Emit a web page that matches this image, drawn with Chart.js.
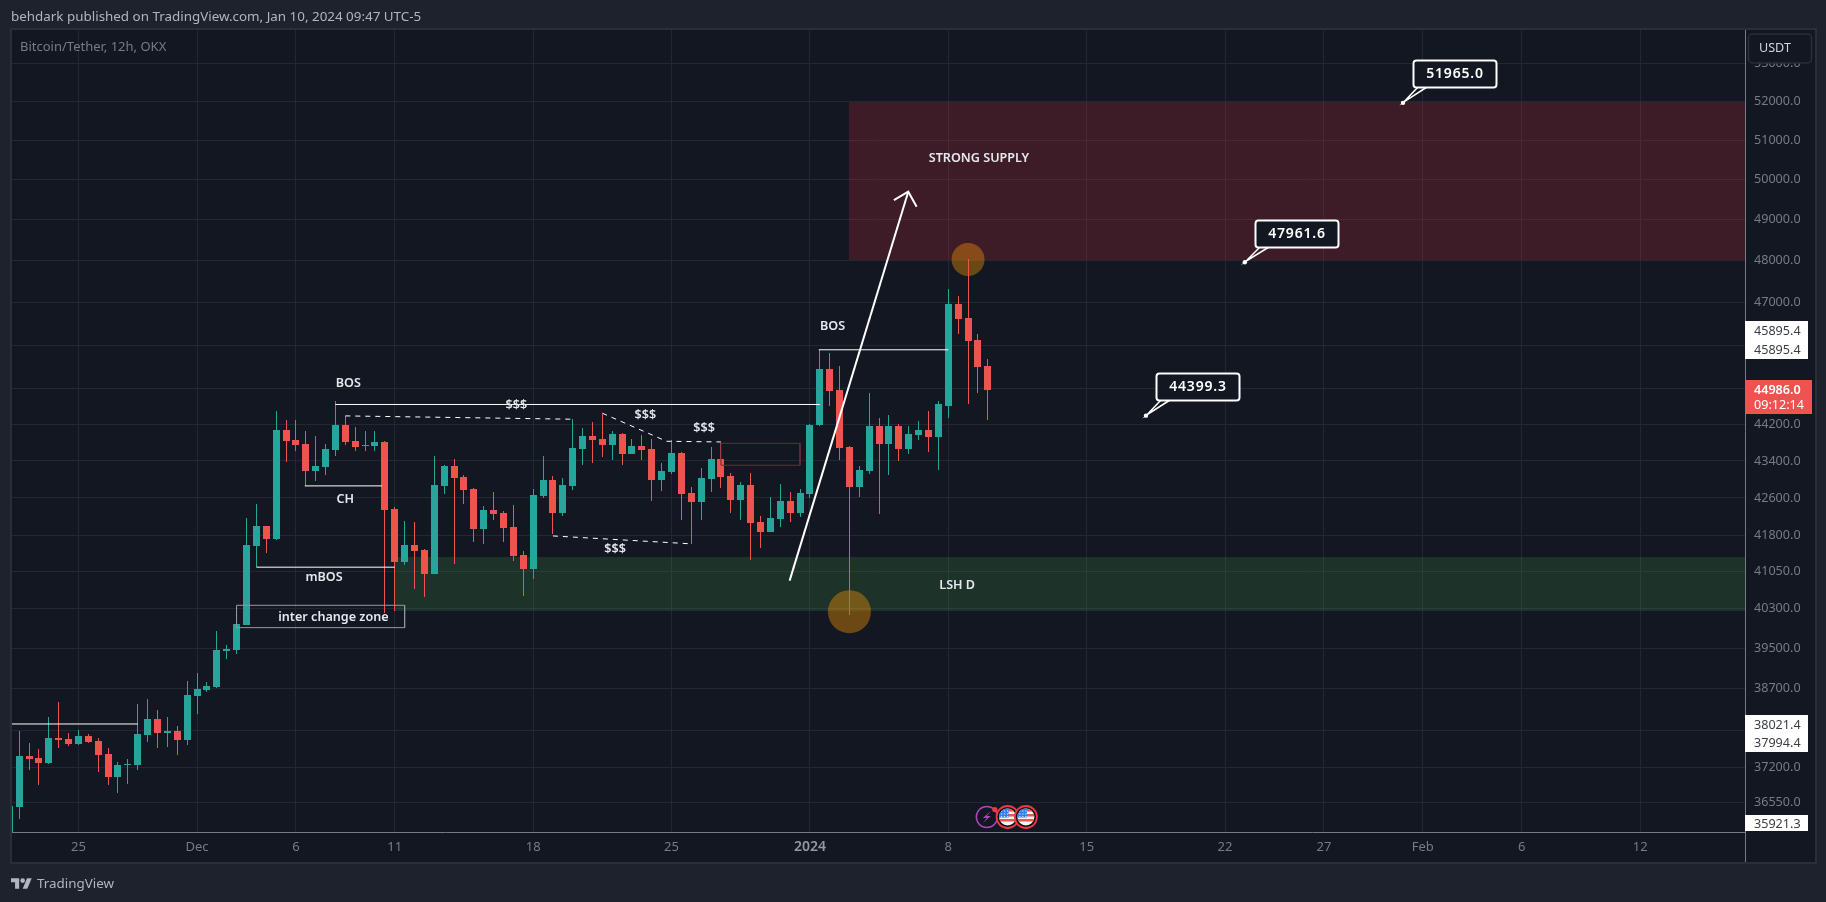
<!DOCTYPE html>
<html>
<head>
<meta charset="utf-8">
<title>Bitcoin/Tether, 12h, OKX</title>
<script src="https://cdn.jsdelivr.net/npm/chart.js@4/dist/chart.umd.min.js"></script>
<style>
  html, body { margin: 0; padding: 0; background: #1e222d; overflow: hidden; }
  body { width: 1826px; height: 902px; position: relative; font-family: "Noto Sans", sans-serif; }
  canvas { position: absolute; left: 0; top: 0; }
  .header { position: absolute; left: 11px; top: 6px; font-size: 13.4px; line-height: 20px; color: #b2b5be; white-space: nowrap; }
  .title { position: absolute; left: 20px; top: 37px; font-size: 13px; line-height: 18px; color: #787b86; white-space: nowrap; }
  .brand { position: absolute; left: 11px; top: 873px; height: 20px; display: flex; align-items: center; color: #b2b5be; font-size: 13.4px; }
  .brand svg { margin-right: 5px; }
</style>
</head>
<body>
<canvas id="chart" width="1826" height="902"></canvas>
<div class="header">behdark published on TradingView.com, Jan 10, 2024 09:47 UTC-5</div>
<div class="title">Bitcoin/Tether, 12h, OKX</div>
<div class="brand">
  <svg width="21" height="11" viewBox="0 4 36 18"><path fill="#b2b5be" d="M14 22H7V11H0V4h14v18zM28 22h-8l7.5-18h8L28 22z"/><circle fill="#b2b5be" cx="20" cy="8" r="4"/></svg>
  TradingView
</div>
<script>
// 12h candles, index 0 = Nov 21 12:00
const opens = [
  35921, 36471, 37413, 37376, 37283, 37754, 37735, 37640, 37793, 37697,
  37450, 37022, 37245, 37245, 37812, 38118, 37850, 37888, 37716, 38559,
  38677, 38736, 39441, 39461, 39964, 41582, 42004, 41729, 44083, 43860,
  43771, 43183, 43269, 43638, 44194, 43838, 43727, 43727, 43816, 42364,
  41250, 41603, 41497, 41002, 42858, 43291, 43053, 42793, 41941, 42343,
  42279, 41983, 41394, 41105, 42641, 42988, 42279, 42858, 43660, 43949,
  43883, 43749, 43994, 43551, 43727, 43660, 42988, 43161, 43573, 42706,
  42512, 43009, 43443, 43074, 42554, 42879, 42089, 41877, 42152, 42533,
  42279, 42684, 44194, 45457, 44978, 43705, 42836, 43183, 44172, 43771,
  44172, 43660, 43972, 44083, 43927, 44617, 46965, 46638, 46124, 45525
];
const closes = [
  36484, 37413, 37357, 37283, 37754, 37716, 37640, 37793, 37678, 37432,
  37022, 37245, 37264, 37831, 38118, 37850, 37888, 37716, 38579, 38697,
  38755, 39461, 39481, 39984, 41603, 42004, 41729, 44083, 43838, 43749,
  43183, 43291, 43660, 44194, 43816, 43705, 43749, 43816, 42343, 41250,
  41603, 41476, 41002, 42879, 43291, 43031, 42771, 41941, 42343, 42258,
  41962, 41373, 41105, 42662, 42988, 42279, 42879, 43682, 43949, 43860,
  43749, 43994, 43551, 43727, 43638, 42988, 43183, 43573, 42684, 42512,
  43031, 43443, 43053, 42554, 42879, 42068, 41877, 42173, 42533, 42279,
  42706, 44194, 45457, 44955, 43682, 42836, 43205, 44172, 43771, 44172,
  43660, 43994, 44083, 43927, 44661, 46965, 46614, 46100, 45502, 44986
];
const highs = [
  36484, 37888, 37659, 37544, 38156, 38443, 37850, 37907, 37831, 37754,
  37563, 37301, 37357, 38405, 38501, 38290, 38156, 37984, 38853, 39010,
  38834, 39843, 39562, 40345, 42173, 42469, 42004, 44505, 44305, 44305,
  44061, 43949, 43771, 44734, 44394, 44150, 44061, 44061, 43838, 42406,
  42110, 42089, 41518, 43508, 43313, 43443, 43096, 42814, 42427, 42731,
  42321, 42448, 41476, 42793, 43508, 43074, 43031, 44327, 44127, 44261,
  44439, 44061, 44016, 43883, 43972, 43883, 43356, 43860, 43595, 42836,
  43248, 43705, 43794, 43140, 42944, 43140, 42216, 42619, 42901, 42731,
  42793, 44216, 45890, 45822, 45525, 43727, 43291, 44910, 44350, 44416,
  44216, 44172, 44283, 44505, 44728, 47322, 47154, 48041, 46264, 45685
];
const lows = [
  35921, 36253, 37152, 36873, 37264, 37563, 37601, 37621, 37659, 37115,
  36873, 36724, 36891, 37152, 37678, 37563, 37582, 37432, 37621, 38213,
  38638, 38716, 39285, 39383, 39964, 41146, 41435, 41708, 43378, 43616,
  42858, 42966, 43096, 43508, 43749, 43616, 43616, 43616, 40205, 40245,
  41188, 40693, 40528, 41002, 42684, 41208, 42469, 41666, 41624, 42131,
  41666, 41270, 40549, 40899, 42597, 41836, 42216, 42771, 43313, 43356,
  43486, 43421, 43313, 43551, 43421, 42533, 42749, 43118, 42131, 41624,
  42131, 42731, 42814, 42279, 42131, 41291, 41539, 41877, 41983, 42089,
  42195, 42597, 44172, 44617, 43421, 40165, 42619, 43118, 42258, 43096,
  43400, 43551, 43860, 43595, 43205, 44350, 46264, 44661, 44910, 44305
];

const priceTicks = [53000, 52000, 51000, 50000, 49000, 48000, 47000, 46000, 45000, 44200, 43400, 42600, 41800, 41050, 40300, 39500, 38700, 37900, 37200, 36550];
const timeTicks = [7, 19, 29, 39, 53, 67, 81, 95, 109, 123, 133, 143, 153, 165];
const timeLabels = ['25', 'Dec', '6', '11', '18', '25', '2024', '8', '15', '22', '27', 'Feb', '6', '12'];

// drawings, as [candle index, price]
const leftLevel = [[0, 38021], [13, 38021]];
const mbosLine = [[25, 41141], [39, 41141]];
const chLine = [[29.9, 42858], [37.7, 42858]];
const bosLine = [[33, 44650], [82, 44650]];
const bos2Line = [[81.9, 45895.4], [95, 45895.4]];
const swingHighs = [[34, 44394], [57, 44320]];
const swingHighs2 = [[60, 44454], [66.5, 43831], [72, 43816]];
const swingLows = [[55, 41793], [69, 41627]];
const interChangeBox = [[23, 40360], [40, 40360], [40, 39909], [23, 39909], [23, 40360]];
const orderBlockBox = [[72, 43787], [80, 43787], [80, 43306], [72, 43306], [72, 43787]];
const arrowShaft = [[78.95, 40864], [90.95, 49693]];
const arrowHead = [[89.5, 49486], [90.95, 49693], [91.8, 49320]];

const sweepIndex = [85, 97];
const sweepPrice = [40230, 48030];
const sweepSize = [21.5, 16.5];

const supplyZone = { from: 85, top: 52000, bottom: 48017 };
const demandZone = { from: 39, top: 41353, bottom: 40251 };

const noteText = ['BOS', '$$$', '$$$', '$$$', '$$$', 'CH', 'mBOS', 'inter change zone', 'BOS', 'STRONG SUPPLY', 'LSH D'];
const noteIndex = [34.3, 51.3, 64.35, 70.3, 61.3, 34, 31.85, 32.8, 83.3, 98.1, 95.9];
const notePrice = [45115, 44639, 44394, 44105, 41518, 42576, 40920, 40124, 46427, 50535, 40773];

const calloutIndex = [141, 125, 115];
const calloutPrice = [51965.0, 47961.6, 44399.3];

const eventIndex = [98.9, 101, 102.85];

const UP = '#26a69a';
const DOWN = '#ef5350';
const PANE = '#131722';
const BODY_BG = '#1e222d';
const TEXT_FONT = '"Noto Sans", sans-serif';

const candleIdx = opens.map((_, i) => i);
const candleColors = opens.map((o, i) => closes[i] >= o ? UP : DOWN);

function drawingLine(points, opts = {}) {
  return {
    type: 'line',
    data: points.map(p => ({ x: p[0], y: p[1] })),
    borderColor: opts.color || '#ffffff',
    borderWidth: opts.width || 1,
    borderDash: opts.dash || [],
    pointRadius: 0,
    tension: 0,
    order: 1
  };
}

function roundRect(ctx, x, y, w, h, r) {
  ctx.beginPath();
  ctx.roundRect(x, y, w, h, r);
}

// pixel-snap the candles the way TradingView draws them
const snapCandles = {
  id: 'snapCandles',
  afterDatasetsUpdate(chart) {
    chart.data.datasets.forEach((ds, i) => {
      if (ds.type === 'line') return;
      chart.getDatasetMeta(i).data.forEach(el => {
        el.x = Math.round(el.x - 0.5) + 0.5;
        let top = Math.round(el.y);
        let bottom = Math.round(el.base);
        if (bottom - top < 1) bottom = top + 1;
        el.y = top;
        el.base = bottom;
      });
    });
  }
};

const paneBackground = {
  id: 'paneBackground',
  beforeDraw(chart) {
    const { ctx } = chart;
    ctx.save();
    ctx.fillStyle = BODY_BG;
    ctx.fillRect(0, 0, 1826, 902);
    ctx.fillStyle = '#2a2e39';
    ctx.fillRect(10, 28, 1807, 836);
    ctx.fillStyle = PANE;
    ctx.fillRect(12, 30, 1803, 832);
    ctx.restore();
  }
};

const zones = {
  id: 'zones',
  beforeDatasetsDraw(chart) {
    const { ctx, scales: { x, y }, chartArea } = chart;
    ctx.save();
    [[supplyZone, 'rgba(242,54,69,0.19)'], [demandZone, 'rgba(76,175,80,0.18)']].forEach(([z, color]) => {
      const left = Math.round(x.getPixelForValue(z.from));
      const top = Math.round(y.getPixelForValue(z.top));
      const bottom = Math.round(y.getPixelForValue(z.bottom));
      ctx.fillStyle = color;
      ctx.fillRect(left, top, chartArea.right - left, bottom - top);
    });
    ctx.restore();
  }
};

const notes = {
  id: 'notes',
  afterDatasetsDraw(chart) {
    const { ctx, scales: { x, y } } = chart;
    ctx.save();
    ctx.textAlign = 'center';
    ctx.textBaseline = 'middle';
    noteText.forEach((t, i) => {
      ctx.font = '600 12.6px ' + TEXT_FONT;
      ctx.fillStyle = '#e6e8ee';
      ctx.fillText(t, x.getPixelForValue(noteIndex[i]), y.getPixelForValue(notePrice[i]));
    });

    // price callouts
    calloutPrice.forEach((p, i) => {
      const tipX = x.getPixelForValue(calloutIndex[i]);
      const tipY = y.getPixelForValue(p);
      const bx = Math.round(tipX + 10);
      const by = Math.round(tipY - 42.5);
      ctx.strokeStyle = '#ffffff';
      ctx.fillStyle = PANE;
      ctx.lineWidth = 1.5;
      ctx.beginPath();
      ctx.moveTo(bx + 5, by + 27);
      ctx.lineTo(tipX + 1, tipY - 1);
      ctx.lineTo(bx + 14, by + 27);
      ctx.stroke();
      roundRect(ctx, bx + 0.5, by + 0.5, 83, 27, 3);
      ctx.fill();
      ctx.lineWidth = 2;
      ctx.stroke();
      ctx.fillStyle = '#ffffff';
      ctx.beginPath();
      ctx.arc(tipX, tipY, 2.2, 0, Math.PI * 2);
      ctx.fill();
      ctx.font = '600 14px ' + TEXT_FONT;
      ctx.letterSpacing = '0.8px';
      ctx.fillText(p.toFixed(1), bx + 42, by + 14);
      ctx.letterSpacing = '0px';
    });

    // event markers on the time axis
    const eventY = chart.chartArea.bottom - 15;
    const bolt = x.getPixelForValue(eventIndex[0]);
    ctx.strokeStyle = '#ab47bc';
    ctx.lineWidth = 1.5;
    ctx.beginPath();
    ctx.arc(bolt, eventY, 10.5, 0, Math.PI * 2);
    ctx.stroke();
    ctx.fillStyle = '#ab47bc';
    ctx.beginPath();
    ctx.moveTo(bolt + 4, eventY - 6);
    ctx.lineTo(bolt - 4, eventY + 1);
    ctx.lineTo(bolt, eventY + 1);
    ctx.lineTo(bolt - 4, eventY + 6);
    ctx.lineTo(bolt + 4, eventY - 1);
    ctx.lineTo(bolt, eventY - 1);
    ctx.closePath();
    ctx.fill();
    ctx.fillStyle = '#f23645';
    ctx.beginPath();
    ctx.arc(bolt + 8, eventY - 7.5, 2.6, 0, Math.PI * 2);
    ctx.fill();

    eventIndex.slice(1).forEach(k => {
      const cx = x.getPixelForValue(k);
      ctx.save();
      ctx.fillStyle = '#0d0f14';
      ctx.beginPath();
      ctx.arc(cx, eventY, 11, 0, Math.PI * 2);
      ctx.fill();
      ctx.beginPath();
      ctx.arc(cx, eventY, 8.5, 0, Math.PI * 2);
      ctx.clip();
      ctx.fillStyle = '#f4f4f4';
      ctx.fillRect(cx - 9, eventY - 9, 18, 18);
      ctx.fillStyle = '#ef5350';
      [-8, -3, 2].forEach(o => ctx.fillRect(cx - 9, eventY + o, 18, 2.5));
      ctx.fillStyle = '#2f80ed';
      ctx.fillRect(cx - 9, eventY - 9, 10, 9.5);
      ctx.fillStyle = '#ffffff';
      [-6.5, -3.5, -0.5].forEach(dx => [-6.5, -3.5, -1].forEach(dy => ctx.fillRect(cx + dx, eventY + dy, 1, 1)));
      ctx.restore();
      ctx.strokeStyle = '#f23645';
      ctx.lineWidth = 1.8;
      ctx.beginPath();
      ctx.arc(cx, eventY, 11, 0, Math.PI * 2);
      ctx.stroke();
    });
    ctx.restore();
  },
  afterDraw(chart) {
    const { ctx, chartArea } = chart;
    const axisX = chartArea.right;
    ctx.save();
    // axis divider runs on through the time scale
    ctx.fillStyle = '#787b86';
    ctx.fillRect(axisX, chartArea.bottom, 1, 30);

    // USDT button
    ctx.fillStyle = PANE;
    ctx.strokeStyle = '#2a2e39';
    ctx.lineWidth = 1.5;
    roundRect(ctx, axisX + 3.5, 34, 63, 29, 4);
    ctx.fill();
    ctx.stroke();
    ctx.fillStyle = '#d1d4dc';
    ctx.font = '12.6px ' + TEXT_FONT;
    ctx.textAlign = 'left';
    ctx.textBaseline = 'middle';
    ctx.fillText('USDT', axisX + 14, 48.5);

    // drawing price labels
    const textX = axisX + 9;
    ctx.fillStyle = '#ffffff';
    ctx.fillRect(axisX, 321, 63, 38);
    ctx.fillRect(axisX, 715, 63, 37);
    ctx.fillRect(axisX, 815, 63, 16);
    ctx.fillStyle = '#3a3d46';
    ctx.fillText('45895.4', textX, 331.5);
    ctx.fillText('45895.4', textX, 350);
    ctx.fillText('38021.4', textX, 725);
    ctx.fillText('37994.4', textX, 743.5);
    ctx.fillText('35921.3', textX, 824.5);

    // last price
    ctx.fillStyle = DOWN;
    ctx.fillRect(axisX, 380, 67, 34);
    ctx.fillStyle = '#ffffff';
    ctx.font = '600 12.6px ' + TEXT_FONT;
    ctx.fillText(closes[closes.length - 1].toFixed(1), textX, 390);
    ctx.font = '12.6px ' + TEXT_FONT;
    ctx.fillText('09:12:14', textX, 405);
    ctx.restore();
  }
};

new Chart(document.getElementById('chart'), {
  type: 'bar',
  data: {
    datasets: [
      // overlays sit above the candles: lower order draws on top
      ...[
        drawingLine(leftLevel),
        drawingLine(mbosLine),
        drawingLine(chLine),
        drawingLine(bosLine),
        drawingLine(bos2Line),
        drawingLine(swingHighs, { dash: [5, 5] }),
        drawingLine(swingHighs2, { dash: [5, 5] }),
        drawingLine(swingLows, { dash: [5, 5] }),
        drawingLine(interChangeBox, { color: '#9598a1' }),
        drawingLine(orderBlockBox, { color: '#6e2a38' }),
        drawingLine(arrowShaft, { width: 2 }),
        drawingLine(arrowHead, { width: 2 })
      ],
      {
        type: 'line',
        data: sweepIndex.map((k, i) => ({ x: k, y: sweepPrice[i] })),
        showLine: false,
        pointRadius: sweepSize,
        pointBackgroundColor: 'rgba(255,152,0,0.38)',
        pointBorderWidth: 0,
        order: 4
      },
      {
        label: 'body',
        data: candleIdx.map(i => ({ x: i, y: [opens[i], closes[i]] })),
        backgroundColor: candleColors,
        barThickness: 7,
        grouped: false,
        inflateAmount: 0,
        borderWidth: 0,
        order: 2
      },
      {
        label: 'wick',
        data: candleIdx.map(i => ({ x: i, y: [lows[i], highs[i]] })),
        backgroundColor: candleColors,
        barThickness: 1,
        grouped: false,
        inflateAmount: 0,
        borderWidth: 0,
        order: 3
      }
    ]
  },
  options: {
    responsive: false,
    animation: false,
    events: [],
    layout: { autoPadding: false, padding: { left: 12, top: 30, right: 11, bottom: 40 } },
    plugins: { legend: { display: false }, tooltip: { enabled: false } },
    scales: {
      x: {
        type: 'linear',
        offset: false,
        min: 0.28,
        max: 175.6,
        afterBuildTicks: scale => { scale.ticks = timeTicks.map(v => ({ value: v })); },
        afterFit: scale => { scale.height = 30; },
        grid: { offset: false, color: '#232732', drawTicks: false },
        border: { color: '#787b86' },
        ticks: {
          autoSkip: false,
          maxRotation: 0,
          padding: 7,
          color: ctx => timeLabels[ctx.index] === '2024' ? '#9598a1' : '#787b86',
          font: ctx => ({ family: TEXT_FONT, size: timeLabels[ctx.index] === '2024' ? 14 : 13, weight: timeLabels[ctx.index] === '2024' ? '600' : '400' }),
          callback: (value, index) => timeLabels[index]
        }
      },
      y: {
        type: 'logarithmic',
        position: 'right',
        min: 36010,
        max: 53905,
        afterBuildTicks: scale => { scale.ticks = priceTicks.map(v => ({ value: v })); },
        afterFit: scale => { scale.width = 70; },
        grid: { color: '#232732', drawTicks: false },
        border: { color: '#787b86' },
        ticks: {
          autoSkip: false,
          padding: 9,
          color: '#787b86',
          font: { family: TEXT_FONT, size: 12.6 },
          callback: value => value.toFixed(1)
        }
      }
    }
  },
  plugins: [paneBackground, snapCandles, zones, notes]
});
</script>
</body>
</html>
